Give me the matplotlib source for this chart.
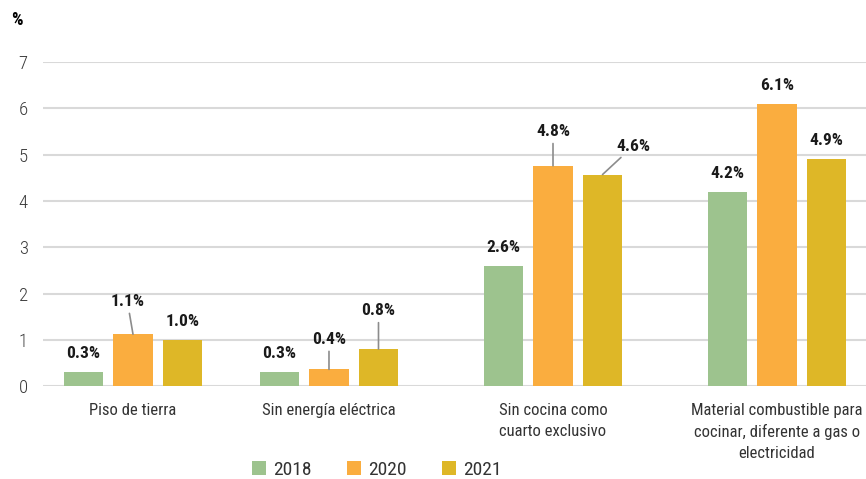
import matplotlib
matplotlib.use("Agg")
import matplotlib.pyplot as plt
from matplotlib.patches import Patch
import matplotlib.font_manager as fm

# ---- data ----
categories = ["Piso de tierra", "Sin energía eléctrica",
              "Sin cocina como\ncuarto exclusivo",
              "Material combustible para\ncocinar, diferente a gas o\nelectricidad"]
years = ["2018", "2020", "2021"]
v2018 = [0.3, 0.3, 2.6, 4.2]
v2020 = [1.12, 0.36, 4.76, 6.09]
v2021 = [0.99, 0.8, 4.57, 4.9]
y_ticks = [0, 1, 2, 3, 4, 5, 6, 7]

# ---- layout / style ----
colors = ["#9DC38E", "#FAAD3F", "#DEB727"]
group_pos = [0.0, 1.0, 2.143, 3.286]
bar_w = 0.2
step = 0.2526
names = {f.name for f in fm.fontManager.ttflist}
fam = [f for f in ["Roboto Condensed", "PT Sans Narrow", "Roboto", "DejaVu Sans"] if f in names]
plt.rcParams['font.family'] = fam
label_offsets = {
    (0, 1): (-4, 18), (1, 1): (0, 16), (1, 2): (0, 22),
    (2, 1): (0, 19), (2, 2): (22, 15),
}

fig = plt.figure(figsize=(8.66, 4.79), dpi=100)
ax = fig.add_axes([0.0497, 0.194, 0.9503, 0.6764])
series = [v2018, v2020, v2021]
for si, vals in enumerate(series):
    xs = [g + (si - 1) * step for g in group_pos]
    ax.bar(xs, vals, width=bar_w, color=colors[si], zorder=3)
    for gi, (x, v) in enumerate(zip(xs, vals)):
        txt = f"{v:.1f}%"
        if (gi, si) in label_offsets:
            dx, dy = label_offsets[(gi, si)]
            ax.annotate(txt, xy=(x, v), xytext=(dx, dy),
                        textcoords="offset points", ha="center", va="bottom",
                        fontsize=12.5, fontweight="semibold", color="#1a1a1a",
                        arrowprops=dict(arrowstyle="-", color="#8c8c8c", lw=1.2,
                                        shrinkA=1, shrinkB=0))
        else:
            ax.annotate(txt, xy=(x, v), xytext=(0, 8), textcoords="offset points",
                        ha="center", va="bottom", fontsize=12.5, fontweight="semibold",
                        color="#1a1a1a")

ax.set_ylim(0, 7)
ax.set_xlim(-0.459, 3.74)
ax.set_yticks(y_ticks)
ax.set_yticklabels([str(t) for t in y_ticks], fontsize=13.5, color="#3a3a3a", fontweight="light")
ax.set_xticks(group_pos)
ax.set_xticklabels(categories, fontsize=12, color="#333333", linespacing=1.5, va="top")
ax.tick_params(axis="both", length=0)
ax.tick_params(axis="y", pad=11)
ax.tick_params(axis="x", pad=12)
ax.grid(axis="y", color="#D9D9D9", lw=1.5, zorder=0)
for s in ax.spines.values():
    s.set_visible(False)

fig.text(0.013, 1 - 20 / 479, "%", fontsize=13, fontweight="bold", va="center", ha="left")

handles = [Patch(facecolor=c, edgecolor="none") for c in colors]
fig.legend(handles, years, loc="center", bbox_to_anchor=(377 / 866, 1 - 470 / 479),
           ncol=3, frameon=False, fontsize=14, handlelength=0.7, handleheight=0.7,
           columnspacing=1.8, handletextpad=0.4, labelcolor="#333333")

fig.savefig("out.png", dpi=100)
